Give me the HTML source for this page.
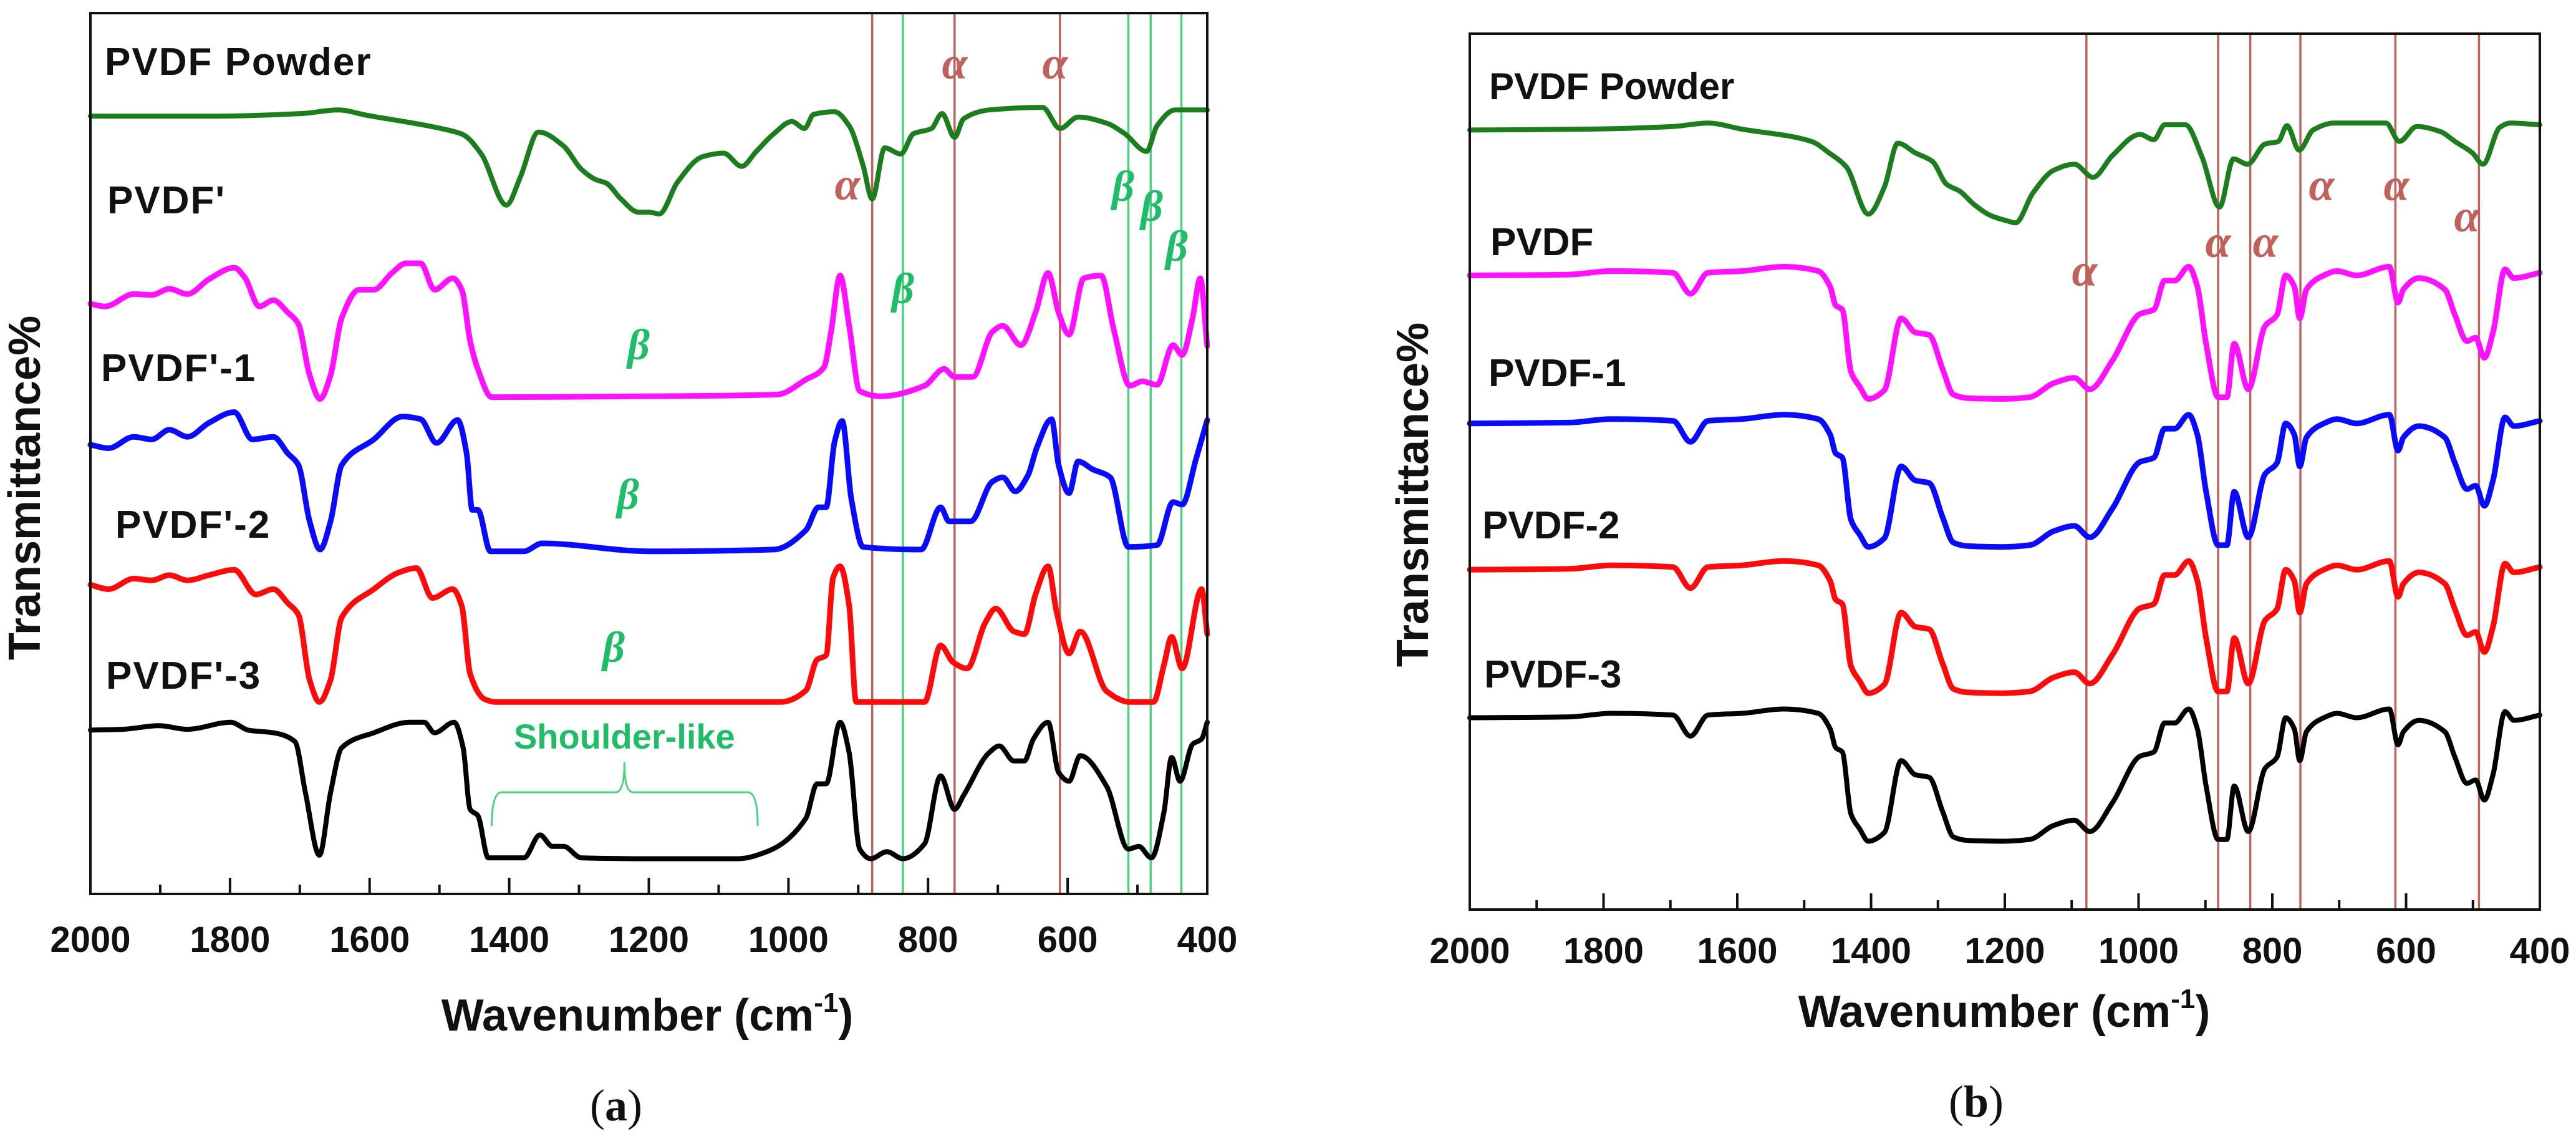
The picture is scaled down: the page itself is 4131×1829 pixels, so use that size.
<!DOCTYPE html>
<html><head><meta charset="utf-8"><title>FTIR spectra of PVDF</title>
<style>
html,body{margin:0;padding:0;background:#fff;}
svg{display:block;}
.lbl{font-family:"Liberation Sans",Arial,sans-serif;font-weight:bold;fill:#111;}
.tick{font-family:"Liberation Sans",Arial,sans-serif;font-weight:bold;font-size:58px;fill:#111;}
.ttl{font-family:"Liberation Sans",Arial,sans-serif;font-weight:bold;font-size:72px;fill:#111;}
.gk{font-family:"Liberation Serif","DejaVu Serif",serif;font-style:italic;font-weight:bold;}
.cap{font-family:"Liberation Serif",serif;font-size:72px;fill:#111;}
</style></head>
<body>
<svg id="chart" width="4131" height="1829" viewBox="0 0 4131 1829" xmlns="http://www.w3.org/2000/svg"></svg>
<script>
// ---------- Panel (a) data ----------
const tickLabels = [2000,1800,1600,1400,1200,1000,800,600,400];
const aGreenW = [2000,1825,1697,1645,1604,1492,1466,1440,1404,1384,1358,1322,1297,1276,1261,1240,1215,1200,1185,1159,1123,1093,1067,1046,1021,995,977,964,934,913,893,880,862,839,821,795,780,762,749,713,636,611,585,544,518,487,472,446,400];
const aGreenT = [88.3,88.3,88.6,89.0,88.4,86.8,86.2,84.0,78.2,81.4,86.5,84.9,82.3,81.1,80.7,78.9,77.4,77.4,77.2,80.8,83.7,84.1,82.6,84.3,86.3,87.7,86.9,88.5,88.8,87.2,82.7,78.9,84.7,84.0,86.3,86.9,88.6,85.9,88.0,89.0,89.3,86.9,88.2,87.5,86.3,84.3,87.2,89.0,89.0];
const aMagW = [2000,1979,1938,1912,1887,1861,1830,1794,1779,1758,1738,1717,1702,1686,1671,1656,1640,1615,1594,1568,1548,1527,1507,1481,1468,1456,1445,1425,1200,1016,975,949,939,926,913,898,867,805,777,762,736,708,693,667,646,628,613,598,577,552,534,511,493,472,449,436,421,410,400];
const aMagT = [67.0,66.7,68.1,68.0,68.7,68.1,69.8,71.1,70.0,66.7,67.4,66.0,64.7,58.9,56.2,58.9,65.4,68.6,68.6,70.5,71.6,71.6,68.6,69.9,68.6,62.8,59.6,56.4,56.5,56.7,58.4,59.8,63.8,70.2,64.5,57.1,56.5,57.7,59.6,58.7,58.7,63.8,64.5,62.3,66.0,70.5,66.0,63.5,69.9,70.2,64.1,57.7,58.2,57.8,62.3,61.2,65.4,69.9,62.2];
const aBlueW = [2000,1974,1938,1912,1887,1861,1830,1794,1768,1738,1717,1702,1686,1671,1656,1640,1594,1553,1527,1504,1474,1461,1453,1445,1427,1379,1353,1200,1021,975,957,946,934,923,910,893,810,782,770,739,708,693,675,657,644,623,613,598,585,564,539,513,472,449,436,416,400];
const aBlueT = [51.0,50.6,51.9,51.6,52.7,51.9,53.5,54.7,51.6,51.9,50.0,48.7,42.3,39.1,42.3,48.7,51.6,54.2,53.9,51.2,53.8,50.0,43.6,43.6,38.9,38.9,39.8,38.9,39.1,41.3,43.9,43.9,51.3,53.7,44.9,39.4,39.1,43.9,42.3,42.3,46.8,47.3,45.7,47.5,50.7,53.9,48.7,45.5,49.1,48.2,47.3,39.4,39.6,44.5,44.2,49.4,53.8];
const aRedW = [2000,1974,1938,1912,1887,1861,1830,1794,1763,1738,1717,1702,1686,1672,1656,1640,1594,1558,1533,1510,1481,1468,1456,1435,1420,1011,975,959,946,936,926,913,903,880,805,782,764,744,718,703,677,662,646,628,616,598,582,544,511,477,462,451,436,408,400];
const aRedT = [35.1,34.6,35.8,35.6,36.2,35.6,36.2,36.8,34.0,34.6,33.0,31.7,24.3,21.8,24.3,31.4,34.6,36.5,37.0,33.6,34.6,32.7,25.0,22.1,21.8,21.8,23.1,26.6,27.1,35.9,37.2,32.7,21.8,21.8,21.8,28.2,26.3,25.6,30.8,32.4,29.8,29.5,34.0,37.2,32.1,27.3,29.8,23.0,21.8,21.8,26.0,29.2,25.6,34.6,29.5];
const aBlackW = [2000,1953,1902,1861,1799,1774,1738,1707,1692,1672,1656,1640,1594,1543,1522,1507,1479,1466,1456,1445,1430,1379,1356,1338,1322,1297,1200,1072,1031,975,959,946,926,913,898,882,859,836,805,782,762,749,713,698,677,662,649,628,613,598,582,544,513,498,480,462,451,439,421,408,400];
const aBlackT = [18.6,18.7,19.1,18.7,19.5,18.6,18.3,17.3,11.5,4.4,11.5,16.6,18.3,19.5,19.5,18.3,19.5,16.6,9.6,8.9,4.1,4.1,6.7,5.4,5.4,4.1,4.0,4.0,4.8,8.6,12.5,12.5,19.5,16.0,5.1,4.0,4.8,4.0,5.7,13.4,9.6,11.2,16.0,16.8,15.1,15.1,17.6,19.5,13.8,12.8,15.7,12.2,5.1,5.4,4.1,9.3,15.5,12.8,17.0,17.6,19.5];
const aAlphaLines = [880,762,611];
const aBetaLines = [836,513,481,437];

// ---------- Panel (b) data ----------
const bGreenW = [2000,1825,1696,1644,1593,1489,1463,1437,1404,1380,1360,1334,1308,1287,1267,1246,1220,1195,1184,1158,1127,1096,1068,1039,998,977,961,930,905,879,858,837,811,791,778,760,739,708,630,610,584,548,527,501,485,460,444,400];
const bGreenT = [89.0,89.1,89.4,89.8,89.1,87.7,86.4,84.8,79.4,82.5,87.5,86.4,85.4,82.8,82.0,80.5,79.2,78.6,78.4,81.8,84.4,85.1,83.6,86.1,88.5,87.9,89.6,89.6,85.9,80.2,85.7,85.1,87.4,87.7,89.5,86.7,89.0,89.8,89.8,87.7,89.4,88.8,87.7,86.4,85.1,89.3,89.8,89.6];
const bW = [2000,1851,1789,1696,1670,1644,1593,1531,1479,1461,1453,1443,1430,1417,1404,1380,1355,1334,1313,1293,1277,1256,1205,1163,1127,1096,1073,1039,998,977,961,946,925,912,899,881,868,857,836,811,793,780,767,759,749,723,703,674,625,612,604,581,542,527,509,496,483,470,452,439,400];
const bMagT = [72.4,72.5,72.9,72.7,70.3,72.7,72.9,73.4,72.9,71.1,69.0,68.5,61.4,59.7,58.3,59.3,67.5,65.9,65.6,61.7,58.8,58.4,58.3,58.5,60.1,60.7,59.4,62.7,68.0,68.5,71.8,71.8,73.4,71.1,64.6,58.5,58.5,64.6,59.4,66.6,67.9,72.4,71.1,67.5,70.8,72.4,72.9,72.4,73.4,69.3,70.8,72.1,70.8,67.9,64.9,65.3,63.0,65.9,73.1,72.1,72.7];
const bBlueT = [55.5,55.6,56.0,55.8,53.4,55.8,56.0,56.5,56.0,54.2,52.1,51.6,44.5,42.8,41.4,42.4,50.6,49.0,48.7,44.8,41.9,41.5,41.4,41.6,43.2,43.8,42.5,45.8,51.1,51.6,54.9,54.9,56.5,54.2,47.7,41.6,41.6,47.7,42.5,49.7,51.0,55.5,54.2,50.6,53.9,55.5,56.0,55.5,56.5,52.4,53.9,55.2,53.9,51.0,48.0,48.4,46.1,49.0,56.2,55.2,55.8];
const bRedT = [38.8,38.9,39.3,39.1,36.7,39.1,39.3,39.8,39.3,37.5,35.4,34.9,27.8,26.1,24.7,25.7,33.9,32.3,32.0,28.1,25.2,24.8,24.7,24.9,26.5,27.1,25.8,29.1,34.4,34.9,38.2,38.2,39.8,37.5,31.0,24.9,24.9,31.0,25.8,33.0,34.3,38.8,37.5,33.9,37.2,38.8,39.3,38.8,39.8,35.7,37.2,38.5,37.2,34.3,31.3,31.7,29.4,32.3,39.5,38.5,39.1];
const bBlackT = [21.9,22.0,22.4,22.2,19.8,22.2,22.4,22.9,22.4,20.6,18.5,18.0,10.9,9.2,7.8,8.8,17.0,15.4,15.1,11.2,8.3,7.9,7.8,8.0,9.6,10.2,8.9,12.2,17.5,18.0,21.3,21.3,22.9,20.6,14.1,8.0,8.0,14.1,8.9,16.1,17.4,21.9,20.6,17.0,20.3,21.9,22.4,21.9,22.9,18.8,20.3,21.6,20.3,17.4,14.4,14.8,12.5,15.4,22.6,21.6,22.2];
const bAlphaLines = [1078,881,833,758,616,491];

const NS = "http://www.w3.org/2000/svg";
const svg = document.getElementById("chart");
function mk(tag, attrs, parent) {
  const e = document.createElementNS(NS, tag);
  for (const k in attrs) e.setAttribute(k, attrs[k]);
  (parent || svg).appendChild(e);
  return e;
}
function makePanel(L, R, T, B) {
  return {
    L: L, R: R, T: T, B: B,
    x: function (w) { return L + (2000 - w) / 1600 * (R - L); },
    y: function (v) { return B - v / 100 * (B - T); }
  };
}
const pa = makePanel(145, 1936, 21, 1433);
const pb = makePanel(2357, 4073, 54, 1458);

function drawAxes(p, tag, tickBase) {
  for (let w = 2000; w >= 400; w -= 100) {
    const major = (w % 200 === 0);
    const t = mk("line", {x1: p.x(w), x2: p.x(w), y1: p.B, y2: p.B - (major ? 26 : 15), stroke: "#111", "stroke-width": 4});
    
    
  }
  tickLabels.forEach(function (w) {
    const tx = mk("text", {x: p.x(w), y: tickBase, "text-anchor": "middle", "class": "tick"});
    tx.textContent = w;
    
    
  });
}
function vline(p, w, color, tag) {
  const l = mk("line", {x1: p.x(w), x2: p.x(w), y1: p.T, y2: p.B, stroke: color, "stroke-width": 3.5});
  
  
}
// Monotone cubic (Fritsch-Carlson) path, no overshoot
function smoothPath(P) {
  const n = P.length;
  const dx = [], s = [], m = [];
  for (let i = 0; i < n - 1; i++) {
    dx[i] = P[i + 1][0] - P[i][0];
    s[i] = dx[i] === 0 ? 0 : (P[i + 1][1] - P[i][1]) / dx[i];
  }
  m[0] = s[0]; m[n - 1] = s[n - 2];
  for (let i = 1; i < n - 1; i++) {
    if (s[i - 1] * s[i] <= 0) m[i] = 0;
    else {
      const w1 = 2 * dx[i] + dx[i - 1], w2 = dx[i] + 2 * dx[i - 1];
      m[i] = (w1 + w2) / (w1 / s[i - 1] + w2 / s[i]);
    }
  }
  let d = "M" + P[0][0].toFixed(1) + "," + P[0][1].toFixed(1);
  for (let i = 0; i < n - 1; i++) {
    const h = dx[i] / 3;
    d += " C" + (P[i][0] + h).toFixed(1) + "," + (P[i][1] + m[i] * h).toFixed(1) + " " +
      (P[i + 1][0] - h).toFixed(1) + "," + (P[i + 1][1] - m[i + 1] * h).toFixed(1) + " " +
      P[i + 1][0].toFixed(1) + "," + P[i + 1][1].toFixed(1);
  }
  return d;
}
function series(p, W, T, color, width, tag) {
  const P = W.map(function (w, i) { return [p.x(w), p.y(T[i])]; });
  const pl = mk("path", {d: smoothPath(P), fill: "none", stroke: color, "stroke-width": width, "stroke-linejoin": "round", "stroke-linecap": "round"});
  
  
}
function label(x, y, txt, size, tag, cls, color, ls) {
  const t = mk("text", {x: x, y: y, "class": cls || "lbl", "font-size": size});
  if (color) t.setAttribute("style", "fill:" + color);
  if (ls) t.setAttribute("letter-spacing", ls);
  t.textContent = txt;
  
  
  return t;
}
const ALPHA = "#c0615b", BETAC = "#1fbd68", BLINE = "#46d27f";

// ===== Panel (a) =====
aAlphaLines.forEach(function (w) { vline(pa, w, ALPHA, 'alpha-line-a'); });
aBetaLines.forEach(function (w) { vline(pa, w, BLINE, 'beta-line-a'); });
series(pa, aGreenW, aGreenT, "#1b7d1b", 8, 'series-pvdf-powder-a');
series(pa, aMagW, aMagT, "#ff10ff", 9, 'series-pvdf-prime-a');
series(pa, aBlueW, aBlueT, "#0a0aff", 9, 'series-pvdf-prime-1');
series(pa, aRedW, aRedT, "#ff0a0a", 9, 'series-pvdf-prime-2');
series(pa, aBlackW, aBlackT, "#000", 8, 'series-pvdf-prime-3');
const fa = mk("rect", {x: pa.L, y: pa.T, width: pa.R - pa.L, height: pa.B - pa.T, fill: "none", stroke: "#111", "stroke-width": 4});


drawAxes(pa, 'panel-a', 1526);

label(168, 120, "PVDF Powder", 62, 'label-pvdf-powder-a', null, null, 2);
label(172, 342, "PVDF'", 62, 'label-pvdf-prime', null, null, 2);
label(162, 611, "PVDF'-1", 62, 'label-pvdf-prime-1', null, null, 2);
label(185, 862, "PVDF'-2", 62, 'label-pvdf-prime-2', null, null, 2);
label(170, 1104, "PVDF'-3", 62, 'label-pvdf-prime-3', null, null, 2);

[[1359, 320], [1531, 126], [1692, 126]].forEach(function (p) {
  const t = label(p[0], p[1], "α", 74, 'alpha-marker-a', "gk", ALPHA); t.setAttribute("text-anchor", "middle");
});
[[1448, 486], [1801, 322], [1847, 354], [1887, 418], [1024, 576], [1007, 816], [984, 1061]].forEach(function (p) {
  const t = label(p[0], p[1], "β", 70, 'beta-marker-a', "gk", BETAC); t.setAttribute("text-anchor", "middle");
});
const sh = label(pa.x(1235), 1200, "Shoulder-like", 56, 'shoulder-like-label', null, BETAC);
sh.setAttribute("text-anchor", "middle");
const bx1 = pa.x(1425), bx2 = pa.x(1044), bxc = pa.x(1235);
const br = mk("path", {d: "M" + bx1 + ",1324 Q" + bx1 + ",1270 " + (bx1 + 16) + ",1270 L" + (bxc - 14) + ",1270 Q" + bxc + ",1270 " + bxc + ",1222 Q" + bxc + ",1270 " + (bxc + 14) + ",1270 L" + (bx2 - 16) + ",1270 Q" + bx2 + ",1270 " + bx2 + ",1324", fill: "none", stroke: BLINE, "stroke-width": 3});



const xta = mk("text", {x: 1038, y: 1652, "text-anchor": "middle", "class": "ttl"});
xta.innerHTML = 'Wavenumber (cm<tspan font-size="44" dy="-30">-1</tspan><tspan dy="30">)</tspan>';


const yta = mk("text", {x: 0, y: 0, "text-anchor": "middle", "class": "ttl", transform: "translate(64,782) rotate(-90)"});
yta.textContent = "Transmittance%";


const ca = mk("text", {x: 988, y: 1796, "text-anchor": "middle", "class": "cap"});
ca.innerHTML = '(<tspan font-weight="bold">a</tspan>)';



// ===== Panel (b) =====
bAlphaLines.forEach(function (w) { vline(pb, w, ALPHA, 'alpha-line-b'); });
series(pb, bGreenW, bGreenT, "#1b7d1b", 8, 'series-pvdf-powder-b');
series(pb, bW, bMagT, "#ff10ff", 9, 'series-pvdf-b');
series(pb, bW, bBlueT, "#0a0aff", 9, 'series-pvdf-1');
series(pb, bW, bRedT, "#ff0a0a", 9, 'series-pvdf-2');
series(pb, bW, bBlackT, "#000", 8, 'series-pvdf-3');
const fb = mk("rect", {x: pb.L, y: pb.T, width: pb.R - pb.L, height: pb.B - pb.T, fill: "none", stroke: "#111", "stroke-width": 4});


drawAxes(pb, 'panel-b', 1544);

label(2388, 159, "PVDF Powder", 60, 'label-pvdf-powder-b');
label(2390, 409, "PVDF", 62, 'label-pvdf-b');
label(2387, 619, "PVDF-1", 62, 'label-pvdf-1');
label(2377, 863, "PVDF-2", 62, 'label-pvdf-2');
label(2380, 1102, "PVDF-3", 62, 'label-pvdf-3');
[[3343, 458], [3557, 412], [3633, 412], [3723, 321], [3843, 321], [3956, 371]].forEach(function (p) {
  const t = label(p[0], p[1], "α", 74, 'alpha-marker-b', "gk", ALPHA); t.setAttribute("text-anchor", "middle");
});
const xtb = mk("text", {x: 3214, y: 1646, "text-anchor": "middle", "class": "ttl"});
xtb.innerHTML = 'Wavenumber (cm<tspan font-size="44" dy="-30">-1</tspan><tspan dy="30">)</tspan>';


const ytb = mk("text", {x: 0, y: 0, "text-anchor": "middle", "class": "ttl", transform: "translate(2290,793) rotate(-90)"});
ytb.textContent = "Transmittance%";


const cb = mk("text", {x: 3169, y: 1790, "text-anchor": "middle", "class": "cap"});
cb.innerHTML = '(<tspan font-weight="bold">b</tspan>)';


</script>
</body></html>
